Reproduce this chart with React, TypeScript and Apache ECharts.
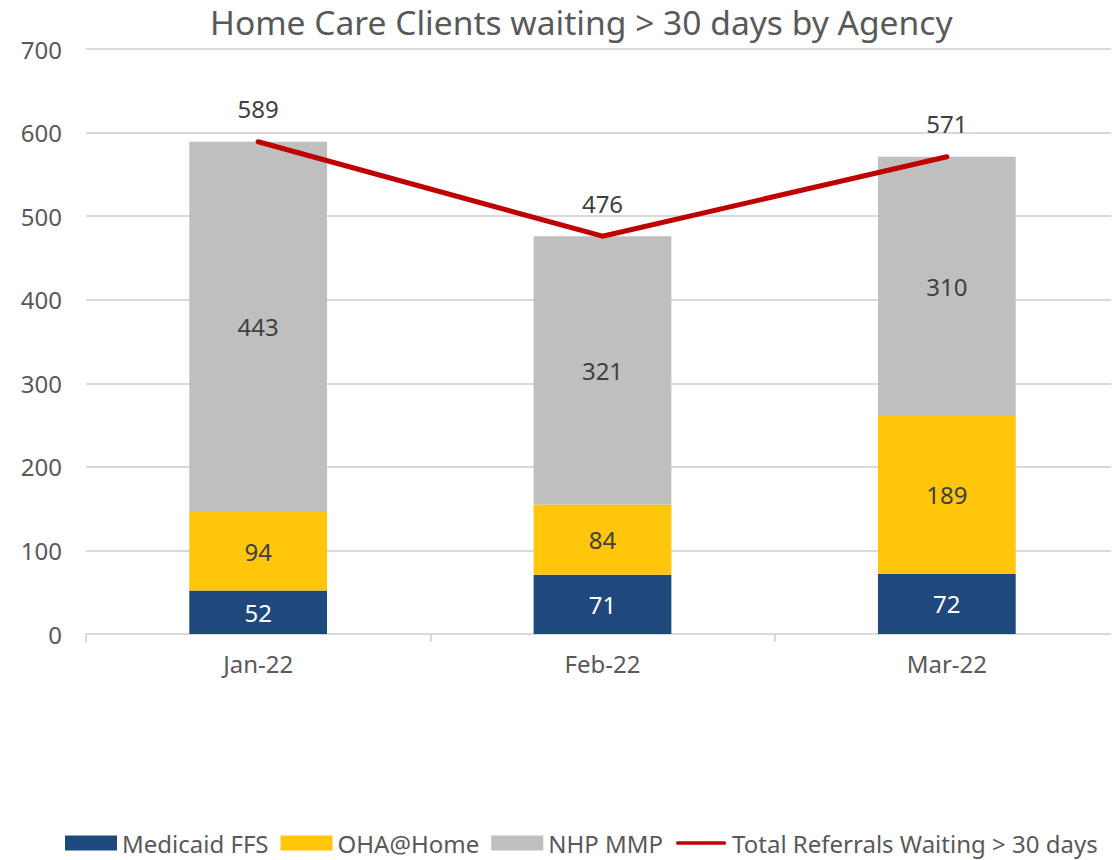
import React, { useEffect, useRef } from "react";
import * as echarts from "echarts";

const categories = ["Jan-22", "Feb-22", "Mar-22"];
const medicaidFFS = [52, 71, 72];
const ohaHome = [94, 84, 189];
const nhpMMP = [443, 321, 310];
const totalWaiting = [589, 476, 571];
const yTicks = [0, 100, 200, 300, 400, 500, 600, 700];

const FONT = "Noto Sans";
const TXT = "#595959";
const LINE_ICON = "path://M0,0L0.01,0M3,5.5H53A2,2 0 0 1 53,9.5H3A2,2 0 0 1 3,5.5Z M56,15L55.99,15";

export default function App() {
  const ref = useRef<HTMLDivElement>(null);
  useEffect(() => {
    const chart = echarts.init(ref.current!, null, { renderer: "svg" });
    const barLabel = (color: string) => ({
      show: true,
      position: "inside",
      color,
      fontSize: 24,
      fontFamily: FONT,
    });
    chart.setOption({
      animation: false,
      title: {
        text: "Home Care Clients waiting > 30 days by Agency",
        left: 205,
        top: 0,
        textStyle: { fontSize: 33.6, fontWeight: "normal", color: TXT, fontFamily: FONT },
      },
      grid: { left: 86, right: -8, top: 49, bottom: 226, containLabel: false },
      legend: {
        bottom: 0,
        left: 60,
        itemGap: 12,
        itemWidth: 52,
        itemHeight: 15,
        textStyle: { fontSize: 24, color: TXT, fontFamily: FONT },
        data: [
          { name: "Medicaid FFS", icon: "rect" },
          { name: "OHA@Home", icon: "rect" },
          { name: "NHP MMP", icon: "rect" },
          { name: "Total Referrals Waiting > 30 days", icon: LINE_ICON, itemStyle: { color: "#C00000" } },
        ],
      },
      xAxis: {
        type: "category",
        data: categories,
        axisLine: { lineStyle: { color: "#D9D9D9", width: 2 } },
        axisTick: { show: true, length: 8, lineStyle: { color: "#D9D9D9", width: 2 } },
        axisLabel: { fontSize: 24, color: TXT, fontFamily: FONT, margin: 17 },
      },
      yAxis: {
        type: "value",
        min: yTicks[0],
        max: yTicks[yTicks.length - 1],
        interval: 100,
        axisLine: { show: false },
        axisTick: { show: false },
        splitLine: { lineStyle: { color: "#D9D9D9", width: 2 } },
        axisLabel: { fontSize: 24, color: TXT, fontFamily: FONT, margin: 24 },
      },
      series: [
        {
          name: "Medicaid FFS",
          type: "bar",
          stack: "total",
          barWidth: "40%",
          data: medicaidFFS,
          itemStyle: { color: "#1F497D" },
          label: barLabel("#FFFFFF"),
        },
        {
          name: "OHA@Home",
          type: "bar",
          stack: "total",
          data: ohaHome,
          itemStyle: { color: "#FFC60B" },
          label: barLabel("#404040"),
        },
        {
          name: "NHP MMP",
          type: "bar",
          stack: "total",
          data: nhpMMP,
          itemStyle: { color: "#BFBFBF" },
          label: barLabel("#404040"),
        },
        {
          name: "Total Referrals Waiting > 30 days",
          type: "line",
          data: totalWaiting,
          symbol: "none",
          lineStyle: { color: "#C00000", width: 5, cap: "round" },
          itemStyle: { color: "#C00000" },
          z: 10,
        },
        {
          name: "Total labels",
          type: "scatter",
          data: totalWaiting,
          symbolSize: 2,
          itemStyle: { color: "rgba(0,0,0,0)", opacity: 1 },
          silent: true,
          label: {
            show: true,
            position: "top",
            distance: 20,
            color: "#404040",
            opacity: 1,
            fontSize: 24,
            fontFamily: FONT,
          },
          labelLayout: { hideOverlap: false },
          z: 11,
        },
      ],
    });
    return () => chart.dispose();
  }, []);
  return <div ref={ref} style={{ width: 1119, height: 860, marginLeft: -8, marginTop: -8 }} />;
}
